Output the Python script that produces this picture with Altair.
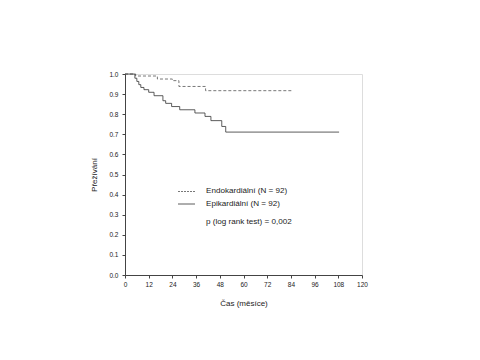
import altair as alt
import pandas as pd

# Kaplan-Meier step data (months, survival)
endo_t = [0, 5.4, 16.4, 24, 27.3, 40.8, 85]
endo_s = [1.0, 0.99, 0.975, 0.967, 0.938, 0.917, 0.917]
epi_t = [0, 5, 6, 7, 8, 9.6, 12, 14.7, 19.2, 20.6, 23.6, 27.7, 35.4, 40.5, 43.5, 49, 51, 108.4]
epi_s = [1.0, 0.979, 0.963, 0.947, 0.933, 0.922, 0.909, 0.892, 0.867, 0.854, 0.838, 0.822, 0.806, 0.789, 0.768, 0.739, 0.711, 0.711]
x_ticks = [0, 12, 24, 36, 48, 60, 72, 84, 96, 108, 120]
y_ticks = [0.0, 0.1, 0.2, 0.3, 0.4, 0.5, 0.6, 0.7, 0.8, 0.9, 1.0]
legend_labels = ["Endokardiální (N = 92)", "Epikardiální (N = 92)"]
p_text = "p (log rank test) = 0,002"

FONT = "Liberation Sans"
W, H = 237, 201

endo = pd.DataFrame({"t": endo_t, "s": endo_s})
epi = pd.DataFrame({"t": epi_t, "s": epi_s})

xs = alt.Scale(domain=[0, 120], nice=False)
ys = alt.Scale(domain=[0, 1], nice=False)
common = dict(grid=False, labelFont=FONT, labelFontSize=6.5, titleFont=FONT, titleFontSize=8,
              titleFontWeight="normal", titleColor="#222", labelColor="#222",
              domainColor="#444", tickColor="#444", tickSize=3, labelOverlap=False,
              labelFlush=False)
xax = alt.Axis(values=x_ticks, title="Čas (měsíce)", labelPadding=3, titlePadding=12, **common)
yax = alt.Axis(values=y_ticks, format=".1f", title="Přežívání", labelPadding=4,
               titlePadding=10, **common)

l_endo = alt.Chart(endo).mark_line(interpolate="step-after", color="#555", strokeWidth=0.8,
                                    strokeDash=[3, 2]).encode(
    x=alt.X("t:Q", scale=xs, axis=xax), y=alt.Y("s:Q", scale=ys, axis=yax))
l_epi = alt.Chart(epi).mark_line(interpolate="step-after", color="#333", strokeWidth=0.8).encode(
    x=alt.X("t:Q", scale=xs, axis=xax), y=alt.Y("s:Q", scale=ys, axis=yax))

leg_dash = alt.Chart(pd.DataFrame({"a": [0]})).mark_rule(color="#555", strokeWidth=0.8,
                                                          strokeDash=[2, 1]).encode(
    x=alt.value(53), x2=alt.value(70), y=alt.value(117.5))
leg_solid = alt.Chart(pd.DataFrame({"a": [0]})).mark_rule(color="#333", strokeWidth=0.8).encode(
    x=alt.value(53), x2=alt.value(70), y=alt.value(130))
txt = dict(align="left", baseline="middle", font=FONT, fontSize=8.1, color="#222")
leg_t1 = alt.Chart(pd.DataFrame({"label": [legend_labels[0]]})).mark_text(**txt).encode(
    x=alt.value(81), y=alt.value(117), text="label:N")
leg_t2 = alt.Chart(pd.DataFrame({"label": [legend_labels[1]]})).mark_text(**txt).encode(
    x=alt.value(81), y=alt.value(130), text="label:N")
leg_p = alt.Chart(pd.DataFrame({"label": [p_text]})).mark_text(**txt).encode(
    x=alt.value(81), y=alt.value(148), text="label:N")

chart = alt.layer(l_endo, l_epi, leg_dash, leg_solid, leg_t1, leg_t2, leg_p).properties(
    width=W, height=H,
    autosize=alt.AutoSizeParams(type="none"),
    padding={"left": 117, "top": 66, "right": 100, "bottom": 80},
).configure_view(stroke=None).configure(background="white")

chart.save("out.html", embed_options={"renderer": "svg", "actions": False})
